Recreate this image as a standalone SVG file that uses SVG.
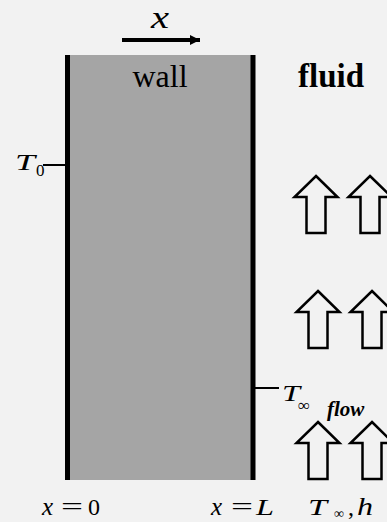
<svg xmlns="http://www.w3.org/2000/svg" width="387" height="522" viewBox="0 0 387 522">
<style>
.serif{font-family:"Liberation Serif","Times New Roman",serif;fill:#000}
.it{font-style:italic}
.bd{font-weight:bold}
.wallline{stroke:#000;stroke-width:5}
.tick{stroke:#000;stroke-width:2}
.flow{fill:none;stroke:#000;stroke-width:2.5;stroke-linejoin:miter}
</style>
<defs>
<path id="blockArrow" class="flow" d="M0,0 L21.5,21 L9.5,21 L9.5,57 L-9.5,57 L-9.5,21 L-21.5,21 Z"/>
<marker id="ah" markerWidth="10" markerHeight="10" refX="10" refY="5" orient="auto" markerUnits="userSpaceOnUse" viewBox="0 0 10 10">
<path d="M0,0 L10,5 L0,10 Z" fill="#000"/>
</marker>
</defs>
<rect width="387" height="522" fill="#f2f2f2"/>
<g id="wall">
<rect x="67" y="55" width="186" height="425" fill="#a5a5a5"/>
<line class="wallline" x1="67.5" y1="55" x2="67.5" y2="480"/>
<line class="wallline" x1="253" y1="55" x2="253" y2="480"/>
<text class="serif" x="160" y="87" font-size="32" text-anchor="middle">wall</text>
</g>
<g id="x-axis">
<line x1="122" y1="40" x2="200" y2="40" stroke="#000" stroke-width="4" marker-end="url(#ah)"/>
<text class="serif it" x="151" y="28" font-size="32" textLength="18" lengthAdjust="spacingAndGlyphs">x</text>
</g>
<g id="fluid">
<text class="serif bd" x="298" y="87" font-size="33">fluid</text>
</g>
<g id="T0">
<line class="tick" x1="43" y1="165" x2="66" y2="165"/>
<text class="serif it" x="15" y="170" font-size="24" textLength="20" lengthAdjust="spacingAndGlyphs">T</text>
<text class="serif" x="36" y="176" font-size="17">0</text>
</g>
<g id="Tinf-wall">
<line class="tick" x1="255" y1="388" x2="279" y2="388"/>
<text class="serif it" x="282" y="401" font-size="24" textLength="18" lengthAdjust="spacingAndGlyphs">T</text>
<text class="serif" x="298" y="411" font-size="17">∞</text>
</g>
<g id="flow-label">
<text class="serif bd it" x="327" y="416" font-size="21">flow</text>
</g>
<g id="flow-arrows">
<use href="#blockArrow" x="316" y="176"/>
<use href="#blockArrow" x="370" y="176"/>
<use href="#blockArrow" x="318" y="291"/>
<use href="#blockArrow" x="372" y="291"/>
<use href="#blockArrow" x="318" y="422"/>
<use href="#blockArrow" x="372" y="422"/>
</g>
<g id="label-x0">
<text class="serif it" x="42" y="515" font-size="25">x</text>
<text class="serif" x="61" y="515" font-size="25" textLength="22" lengthAdjust="spacingAndGlyphs">=</text>
<text class="serif" x="88" y="515" font-size="24">0</text>
</g>
<g id="label-xL">
<text class="serif it" x="211" y="515" font-size="25">x</text>
<text class="serif" x="231" y="515" font-size="25" textLength="22" lengthAdjust="spacingAndGlyphs">=</text>
<text class="serif it" x="256" y="515" font-size="24" textLength="18" lengthAdjust="spacingAndGlyphs">L</text>
</g>
<g id="label-Tinf-h">
<text class="serif it" x="308" y="515" font-size="24" textLength="19" lengthAdjust="spacingAndGlyphs">T</text>
<text class="serif" x="334" y="518" font-size="14">∞</text>
<text class="serif" x="348" y="515" font-size="24">,</text>
<text class="serif it" x="357" y="515" font-size="25" textLength="16" lengthAdjust="spacingAndGlyphs">h</text>
</g>
</svg>
